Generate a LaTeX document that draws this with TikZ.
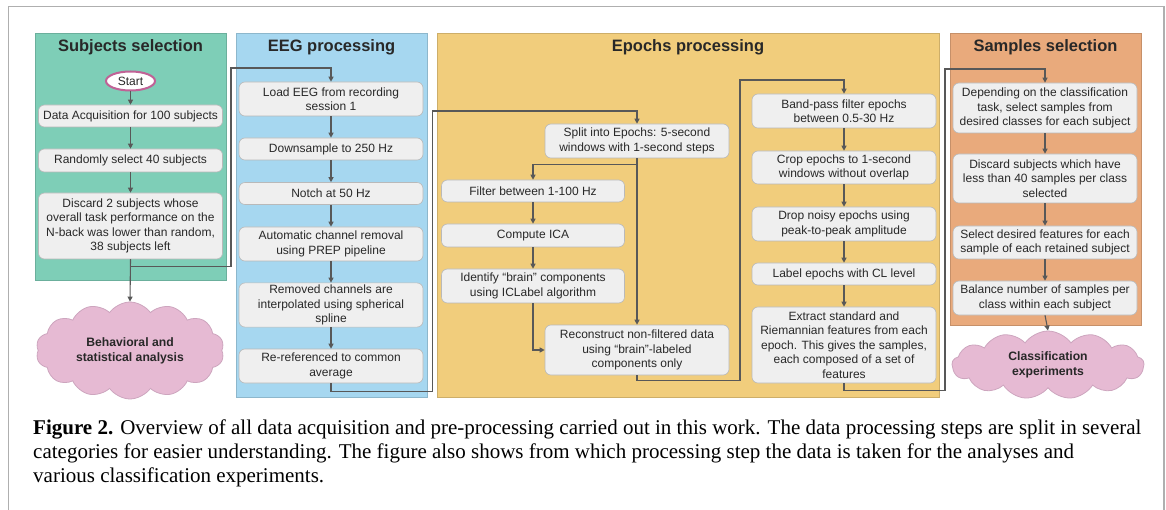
\documentclass[tikz,border=0pt]{standalone}
\usepackage{fontspec}
\usetikzlibrary{shapes.geometric,shapes.symbols,arrows.meta}
\newfontfamily\sansf{Liberation Sans}
\newfontfamily\capfont{Liberation Serif}

\definecolor{subjcol}{RGB}{126,206,183}
\definecolor{eegcol}{RGB}{166,215,240}
\definecolor{epochcol}{RGB}{241,205,124}
\definecolor{sampcol}{RGB}{233,170,124}
\definecolor{boxfill}{RGB}{239,239,239}
\definecolor{boxline}{RGB}{185,185,185}
\definecolor{arrcol}{RGB}{88,88,88}
\definecolor{cloudfill}{RGB}{230,186,211}
\definecolor{cloudline}{RGB}{205,165,190}
\definecolor{startline}{RGB}{192,98,150}
\definecolor{framecol}{RGB}{175,175,175}
\definecolor{inktext}{RGB}{40,40,40}

\tikzset{
  panel/.style={draw=#1!85!black, line width=0.4pt, fill=#1},
  paneltitle/.style={anchor=base, text=inktext, font=\sansf\bfseries\fontsize{16.5}{19}\selectfont},
  stepbox/.style={draw=boxline, line width=0.6pt, fill=boxfill, rounded corners=6pt,
    align=center, text=inktext, font=\sansf\fontsize{12}{14.5}\selectfont,
    minimum width=184pt, inner sep=2pt},
  puff/.style={cloud, cloud puffs=14, cloud puff arc=110, cloud ignores aspect,
    draw=cloudline, line width=0.8pt, fill=cloudfill, align=center, text=inktext,
    font=\sansf\bfseries\fontsize{12.2}{15}\selectfont, inner sep=0pt},
  arr/.style={draw=arrcol, line width=1.1pt,
    -{Triangle[length=5pt,width=5pt]}},
  capline/.style={anchor=base west, inner sep=0pt,
    font=\capfont\fontsize{21}{24}\selectfont}
}

\begin{document}
\begin{tikzpicture}[x=1pt,y=-1pt]
\useasboundingbox (0,0) rectangle (1166,510);

% outer frame
\draw[framecol, line width=1.5pt] (8.5,530) -- (8.5,6.5) -- (1164,6.5) -- (1164,530);

% column backgrounds
\fill[panel=subjcol] (35,33) rectangle (226,280);
\fill[panel=eegcol] (236,33) rectangle (427,397);
\fill[panel=epochcol] (437,33) rectangle (939,397);
\fill[panel=sampcol] (950,33) rectangle (1141,325);

\node[paneltitle] (t1) at (130.5,52) {Subjects selection};
\node[paneltitle] (t2) at (331.5,52) {EEG processing};
\node[paneltitle] (t3) at (688,52) {Epochs processing};
\node[paneltitle] (t4) at (1045.5,52) {Samples selection};

% subjects selection
\node[ellipse, draw=startline, line width=2pt, fill=white, minimum width=49pt,
  minimum height=19pt, inner sep=0pt, text=inktext, font=\sansf\fontsize{12}{14}\selectfont]
  (start) at (130.5,81) {Start};
\node[stepbox, minimum height=22pt] (acq) at (130.5,116) {Data Acquisition for 100 subjects};
\node[stepbox, minimum height=23pt] (rand) at (130.5,160.5) {Randomly select 40 subjects};
\node[stepbox, minimum height=66pt] (disc) at (130.5,226) {Discard 2 subjects whose\\overall task performance on the\\N-back was lower than random,\\38 subjects left};
\node[puff, minimum width=188pt, minimum height=97pt] (behav) at (130,350.5) {Behavioral and\\statistical analysis};

% EEG processing
\node[stepbox, minimum height=34pt] (load) at (331,99) {Load EEG from recording\\session 1};
\node[stepbox, minimum height=22pt] (down) at (331,149) {Downsample to 250 Hz};
\node[stepbox, minimum height=22pt] (notch) at (331,193.5) {Notch at 50 Hz};
\node[stepbox, minimum height=34pt] (prep) at (331,244) {Automatic channel removal\\using PREP pipeline};
\node[stepbox, minimum height=44pt] (interp) at (331,305) {Removed channels are\\interpolated using spherical\\spline};
\node[stepbox, minimum height=34pt] (reref) at (331,366) {Re-referenced to common\\average};

% epochs processing, left branch
\node[stepbox, minimum height=34pt] (split) at (637,141) {Split into Epochs: 5-second\\windows with 1-second steps};
\node[stepbox, minimum width=183pt, minimum height=22pt] (filt) at (533,191) {Filter between 1-100 Hz};
\node[stepbox, minimum width=183pt, minimum height=23pt] (ica) at (533,235.5) {Compute ICA};
\node[stepbox, minimum width=183pt, minimum height=34pt] (ident) at (533,286) {Identify “brain” components\\using ICLabel algorithm};
\node[stepbox, minimum height=50pt] (recon) at (637,350) {Reconstruct non-filtered data\\using “brain”-labeled\\components only};

% epochs processing, right branch
\node[stepbox, minimum height=34pt] (band) at (844,111) {Band-pass filter epochs\\between 0.5-30 Hz};
\node[stepbox, minimum height=33pt] (crop) at (844,167.5) {Crop epochs to 1-second\\windows without overlap};
\node[stepbox, minimum height=34pt] (drop) at (844,224) {Drop noisy epochs using\\peak-to-peak amplitude};
\node[stepbox, minimum height=22pt] (label) at (844,274) {Label epochs with CL level};
\node[stepbox, minimum height=76pt] (extr) at (844,345) {Extract standard and\\Riemannian features from each\\epoch. This gives the samples,\\each composed of a set of\\features};

% samples selection
\node[stepbox, minimum height=50pt] (dep) at (1045,108) {Depending on the classification\\task, select samples from\\desired classes for each subject};
\node[stepbox, minimum height=49pt] (dsub) at (1045,178.5) {Discard subjects which have\\less than 40 samples per class\\selected};
\node[stepbox, minimum height=33pt] (feat) at (1045,242.5) {Select desired features for each\\sample of each retained subject};
\node[stepbox, minimum height=34pt] (bal) at (1045,298) {Balance number of samples per\\class within each subject};
\node[puff, cloud puffs=13, minimum width=192pt, minimum height=68pt] (cls) at (1048,365) {Classification\\experiments};

% bend points of the long connectors
\coordinate (b1) at (231,68);
\coordinate (b2) at (432.5,111);
\coordinate (b3) at (740,80);
\coordinate (b4) at (945,69);

% connectors
\draw[arr] (start) -- (acq);
\draw[arr] (acq) -- (rand);
\draw[arr] (rand) -- (disc);
\draw[arr] (disc.south) -- (behav.north);
\draw[arr] (disc.south) -- ++(0,7) -| (b1) -| (load.north);

\draw[arr] (load) -- (down);
\draw[arr] (down) -- (notch);
\draw[arr] (notch) -- (prep);
\draw[arr] (prep) -- (interp);
\draw[arr] (interp) -- (reref);
\draw[arr] (reref.south) -- ++(0,8) -| (b2) -| (split.north);

\draw[arr] (split.south) -- ++(0,6) -| (filt.north);
\draw[arr] (split.south) -- (recon.north);
\draw[arr] (filt) -- (ica);
\draw[arr] (ica) -- (ident);
\draw[arr] (ident.south) |- (recon.west);
\draw[arr] (recon.south) -- ++(0,5) -| (b3) -| (band.north);

\draw[arr] (band) -- (crop);
\draw[arr] (crop) -- (drop);
\draw[arr] (drop) -- (label);
\draw[arr] (label) -- (extr);
\draw[arr] (extr.south) -- ++(0,7) -| (b4) -| (dep.north);

\draw[arr] (dep) -- (dsub);
\draw[arr] (dsub) -- (feat);
\draw[arr] (feat) -- (bal);
\draw[arr] (bal.south) -- (cls.north);

% caption
\node[capline] (c1) at (33,434) {\textbf{Figure 2.} Overview of all data acquisition and pre-processing carried out in this work. The data processing steps are split in several};
\node[capline] (c2) at (33,458) {categories for easier understanding. The figure also shows from which processing step the data is taken for the analyses and};
\node[capline] (c3) at (33,482) {various classification experiments.};
\end{tikzpicture}
\end{document}
